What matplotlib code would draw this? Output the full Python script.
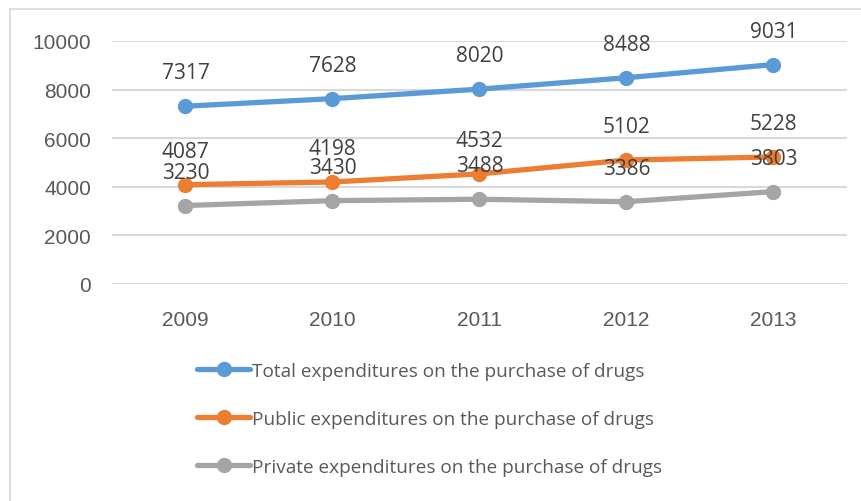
import matplotlib
matplotlib.use("Agg")
import matplotlib.pyplot as plt
from matplotlib.lines import Line2D

years = ["2009", "2010", "2011", "2012", "2013"]
total = [7317, 7628, 8020, 8488, 9031]
public = [4087, 4198, 4532, 5102, 5228]
private = [3230, 3430, 3488, 3386, 3803]
series_names = [
    "Total expenditures on the purchase of drugs",
    "Public expenditures on the purchase of drugs",
    "Private expenditures on the purchase of drugs",
]
y_ticks = [0, 2000, 4000, 6000, 8000, 10000]

colors = ["#5B9BD5", "#ED7D31", "#A5A5A5"]
text_color = "#595959"

fig = plt.figure(figsize=(8.62, 5.02), dpi=100)
W, H = 862, 502
ax = fig.add_axes([112 / W, 1 - 285 / H, (847 - 112) / W, (285 - 42) / H])

x = list(range(len(years)))
handles = []
for vals, name, c in zip([total, public, private], series_names, colors):
    h, = ax.plot(x, vals, color=c, lw=3.8, marker="o", ms=10,
                 solid_capstyle="round", label=name, zorder=3)
    handles.append(h)

for vals in [total, public, private]:
    for xi, v in zip(x, vals):
        ax.annotate(str(v), (xi, v), xytext=(0, 24), textcoords="offset points",
                    ha="center", va="center", fontsize=15, color="#404040",
                    family="Open Sans", zorder=4)

ax.set_xlim(-0.5, len(years) - 0.5)
ax.set_ylim(0, 10000)
ax.set_yticks(y_ticks)
ax.set_xticks(x)
ax.set_xticklabels(years)
ax.yaxis.grid(True, color="#D9D9D9", lw=1.5)
ax.set_axisbelow(True)
for s in ax.spines.values():
    s.set_visible(False)
ax.tick_params(length=0, labelsize=15, labelcolor=text_color)
ax.tick_params(axis="x", pad=19)
ax.tick_params(axis="y", pad=15)
for lab in ax.get_xticklabels() + ax.get_yticklabels():
    lab.set_family("Liberation Sans")

leg = fig.legend(handles=handles, loc="center left",
                 bbox_to_anchor=(197 / W, 1 - 420 / H), frameon=False,
                 prop={"family": "Open Sans", "size": 13.7},
                 handlelength=2.8, handletextpad=0.1, labelspacing=1.58,
                 borderaxespad=0, borderpad=0)
for t in leg.get_texts():
    t.set_color(text_color)

# light frame around the chart area
fig.add_artist(Line2D([10 / W, 10 / W], [0, 1 - 10 / H], color="#D9D9D9", lw=1.2,
                      transform=fig.transFigure))
fig.add_artist(Line2D([10 / W, 1], [1 - 10 / H, 1 - 10 / H], color="#D9D9D9", lw=1.2,
                      transform=fig.transFigure))

fig.savefig("out.png", dpi=100)
